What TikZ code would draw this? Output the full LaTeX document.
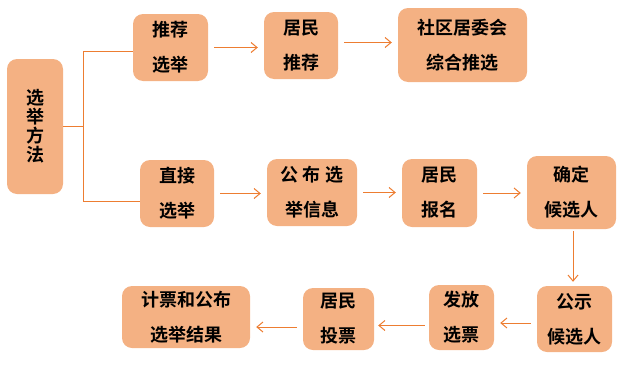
\documentclass[tikz,border=0pt]{standalone}
\usepackage{fontspec}
\setmainfont{Noto Sans CJK SC}[BoldFont={Noto Sans CJK SC Bold}]
\usetikzlibrary{arrows.meta}

\begin{document}
\begin{tikzpicture}[x=1pt,y=-1pt,
  procbox/.style={rectangle, rounded corners=10pt, fill=boxfill, inner sep=0pt,
    align=center, font=\fontsize{18pt}{35pt}\selectfont\bfseries},
  link/.style={draw=linkorange, line width=1pt},
  arr/.style={link, -{Straight Barb[length=6pt,width=10pt]}, shorten >=6pt, shorten <=6pt}]

\definecolor{boxfill}{RGB}{244,177,131}
\definecolor{linkorange}{RGB}{237,125,49}

\useasboundingbox (0,0) rectangle (628,364);

% left box and the two branches
\node[procbox, minimum width=56pt, minimum height=135pt,
  font=\fontsize{18pt}{19pt}\selectfont\bfseries] (method) at (35,126.5) {选\\举\\方\\法};

\node[procbox, minimum width=75pt, minimum height=67pt] (recom) at (170.5,47.5) {推荐\\选举};
\node[procbox, minimum width=74pt, minimum height=67pt] (resrecom) at (301,45.5) {居民\\推荐};
\node[procbox, minimum width=129pt, minimum height=74pt] (committee) at (462.5,45) {社区居委会\\综合推选};

\node[procbox, minimum width=74pt, minimum height=67pt] (direct) at (177,193.5) {直接\\选举};
\node[procbox, minimum width=90pt, minimum height=67pt] (publish) at (312,192.5) {公 布 选\\举信息};
\node[procbox, minimum width=75pt, minimum height=68pt] (signup) at (439.5,193) {居民\\报名};
\node[procbox, minimum width=89pt, minimum height=73pt] (fix) at (571.5,192.5) {确定\\候选人};

% bottom row, right to left
\node[procbox, minimum width=75pt, minimum height=66pt] (announce) at (574.5,319) {公示\\候选人};
\node[procbox, minimum width=65pt, minimum height=65pt] (ballot) at (461.5,317.5) {发放\\选票};
\node[procbox, minimum width=71pt, minimum height=62pt] (vote) at (338.5,319) {居民\\投票};
\node[procbox, minimum width=128pt, minimum height=62pt] (result) at (186,317) {计票和公布\\选举结果};

\draw[link] (method.east) -- ++(20,0) coordinate (fork);
\draw[link] (fork) |- ([yshift=-4pt]recom.west);
\draw[link] (fork) |- ([yshift=-8pt]direct.west);

\draw[arr] (recom.east) -- (recom.east -| resrecom.west);
\draw[arr] ([yshift=3pt]resrecom.east) -- ([yshift=3pt]resrecom.east -| committee.west);

\draw[arr] (direct.east) -- (direct.east -| publish.west);
\draw[arr] (publish.east) -- (publish.east -| signup.west);
\draw[arr] (signup.east) -- (signup.east -| fix.west);
\draw[arr, shorten <=2pt, shorten >=4pt] ([xshift=1.5pt]fix.south) -- ([xshift=1.5pt]fix.south |- announce.north);

\draw[arr] ([yshift=-4pt]announce.west) -- ([yshift=-4pt]announce.west -| ballot.east);
\draw[arr, shorten <=4pt, shorten >=4pt] ([yshift=-8pt]ballot.west) -- ([yshift=-8pt]ballot.west -| vote.east);
\draw[arr] ([yshift=-8pt]vote.west) -- ([yshift=-8pt]vote.west -| result.east);

\end{tikzpicture}
\end{document}
